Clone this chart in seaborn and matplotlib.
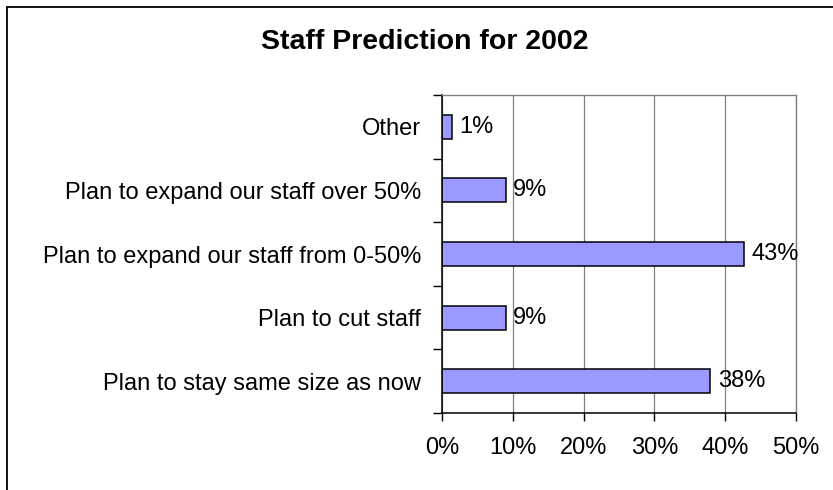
import matplotlib
matplotlib.use("Agg")
import matplotlib.pyplot as plt
from matplotlib.lines import Line2D
from matplotlib.ticker import FixedLocator, FuncFormatter
import seaborn as sns
import pandas as pd

# Survey responses: staffing plans for 2002 (percent of respondents)
categories = [
    "Other",
    "Plan to expand our staff over 50%",
    "Plan to expand our staff from 0-50%",
    "Plan to cut staff",
    "Plan to stay same size as now",
]
shares = [1.4, 9.0, 42.7, 9.0, 37.9]
x_ticks = [0, 10, 20, 30, 40, 50]

df = pd.DataFrame({"category": categories, "share": shares})

sns.set_theme(style="white")
plt.rcParams["font.family"] = ["Liberation Sans", "DejaVu Sans"]

W, H = 833, 490
LABEL_SIZE = 17
fig = plt.figure(figsize=(W / 100, H / 100), dpi=100)
ax = fig.add_axes([442 / W, 1 - 413 / H, (796 - 442) / W, (413 - 95) / H])

sns.barplot(data=df, x="share", y="category", orient="h", color="#9999FF",
            saturation=1, width=0.38, edgecolor="black", linewidth=1.1, ax=ax)

ax.set_xlim(0, 50)
ax.set_ylim(len(categories) - 0.5, -0.5)
ax.set_xlabel("")
ax.set_ylabel("")

# Vertical gridlines
ax.xaxis.set_major_locator(FixedLocator(x_ticks))
ax.xaxis.set_major_formatter(FuncFormatter(lambda v, _: f"{v:.0f}%"))
ax.grid(axis="x", color="#808080", linewidth=0.9)
ax.set_axisbelow(True)

# Spines: black axes on left/bottom, gray frame top/right
for side in ("left", "bottom"):
    ax.spines[side].set_color("black")
    ax.spines[side].set_linewidth(1.1)
for side in ("top", "right"):
    ax.spines[side].set_visible(True)
    ax.spines[side].set_color("#808080")
    ax.spines[side].set_linewidth(1.0)

# Category ticks sit between the bars
ax.set_yticks(range(len(categories)))
ax.set_yticklabels(categories)
ax.yaxis.set_minor_locator(FixedLocator([i - 0.5 for i in range(len(categories) + 1)]))
ax.tick_params(axis="y", which="major", length=0, pad=15, labelsize=LABEL_SIZE, labelcolor="black")
ax.tick_params(axis="y", which="minor", left=True, length=6.5, width=1.0, color="black", direction="out")
ax.tick_params(axis="x", which="major", bottom=True, length=6, width=1.0, color="black",
               direction="out", pad=11, labelsize=LABEL_SIZE, labelcolor="black")

# Value labels at bar ends
for i, v in enumerate(shares):
    ax.annotate(f"{v:.0f}%", xy=(v, i), xytext=(5.5, 0), textcoords="offset points",
                va="center", ha="left", fontsize=LABEL_SIZE, color="black")

fig.text(425 / W, 1 - 42 / H, "Staff Prediction for 2002", ha="center", va="center",
         fontsize=20.5, fontweight="bold", color="black")

# Chart frame (top and left edges)
fig.add_artist(Line2D([7 / W, 7 / W], [0, 1 - 7 / H], transform=fig.transFigure,
                      color="black", linewidth=1.3))
fig.add_artist(Line2D([7 / W, 1], [1 - 7 / H, 1 - 7 / H], transform=fig.transFigure,
                      color="black", linewidth=1.3))

fig.savefig("out.png", dpi=100, facecolor="white")
